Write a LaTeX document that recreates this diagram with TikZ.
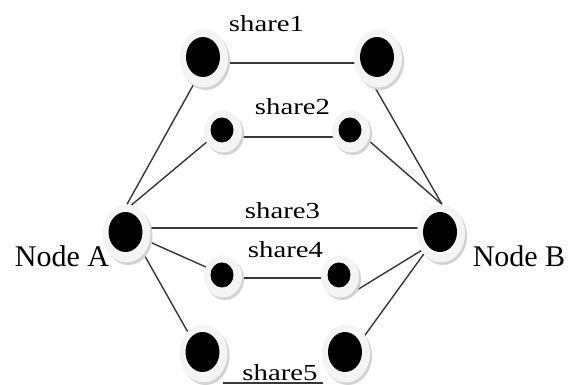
\documentclass[tikz,border=0pt]{standalone}
\usepackage{fontspec}
\setmainfont{Liberation Serif}
\usetikzlibrary{shapes.geometric,shadows,backgrounds}
\newcommand\widetxt[1]{\scalebox{1.25}[1]{#1}}
\tikzset{
  vbig/.style={ellipse, minimum width=48pt, minimum height=58pt, inner sep=0pt,
    fill=gray!9, drop shadow={shadow xshift=2pt, shadow yshift=-2.5pt, fill=gray!35, opacity=1},
    path picture={\fill[black] ([shift={(-1pt,1.5pt)}]path picture bounding box.center) ellipse [x radius=17pt, y radius=20pt];}},
  vsmall/.style={ellipse, minimum width=38pt, minimum height=42pt, inner sep=0pt,
    fill=gray!9, drop shadow={shadow xshift=2pt, shadow yshift=-2.5pt, fill=gray!35, opacity=1},
    path picture={\fill[black] ([shift={(-1pt,1.5pt)}]path picture bounding box.center) ellipse [x radius=11.5pt, y radius=12.5pt];}},
  link/.style={draw=black!78, line width=1.4pt},
  sharelbl/.style={anchor=base, inner sep=0pt, font=\fontsize{23pt}{27pt}\selectfont},
  nodelbl/.style={anchor=base, inner sep=0pt, font=\fontsize{30pt}{36pt}\selectfont},
}
\begin{document}
\begin{tikzpicture}[x=1pt, y=-1pt]
\useasboundingbox (0,0) rectangle (574,385);
% vertices (halo centres)
\node[vbig]   (tl) at (204,58.5)  {};
\node[vbig]   (tr) at (378,58.5)  {};
\node[vsmall] (sl) at (223,131.5) {};
\node[vsmall] (sr) at (351,131.5) {};
\node[vbig]   (A)  at (126.5,233.5) {};
\node[vbig]   (B)  at (441,233.5) {};
\node[vsmall] (fl) at (223,276.5) {};
\node[vsmall] (fr) at (340,276.5) {};
\node[vbig]   (bl) at (203.5,353.5) {};
\node[vbig]   (br) at (346,353.5) {};
% labels
\node[sharelbl] (l1) at (266.5,32)  {\widetxt{share1}};
\node[sharelbl] (l2) at (292.5,115) {\widetxt{share2}};
\node[sharelbl] (l3) at (282.5,219) {\widetxt{share3}};
\node[sharelbl] (l4) at (285.5,258) {\widetxt{share4}};
\node[sharelbl] (l5) at (280,380.5) {\widetxt{share5}};
\node[nodelbl]  (la) at (62,267)  {Node A};
\node[nodelbl]  (lb) at (519,267) {Node B};
\begin{scope}[on background layer]
\fill[white] (0,0) rectangle (574,385);
% connectors from Node A
\draw[link] (A.89)  -- (tl.-112);
\draw[link] (A.80)  -- (sl.-147);
\draw[link] ([yshift=5.5pt]A.center) -- ([yshift=5.5pt]B.center);
\draw[link] (A.-20) -- (fl.151);
\draw[link] (A.-50) -- (bl.126);
% connectors to Node B
\draw[link] (tr.-96) -- (B.88);
\draw[link] (sr.-27) -- (B.88);
\draw[link] (fr.-73) -- (B.-139);
\draw[link] (br.44)  -- (B.-130);
% share links
\draw[link] ([yshift=-4.5pt]tl.center) -- ([yshift=-4.5pt]tr.center);
\draw[link] ([yshift=-5.5pt]sl.center) -- ([yshift=-5.5pt]sr.center);
\draw[link] ([yshift=-1.5pt]fl.center) -- ([yshift=-1.5pt]fr.center);
\draw[link] ([shift={(19pt,-29.5pt)}]bl.center) -- ([shift={(-23pt,-29.5pt)}]br.center);
\end{scope}
\end{tikzpicture}
\end{document}
